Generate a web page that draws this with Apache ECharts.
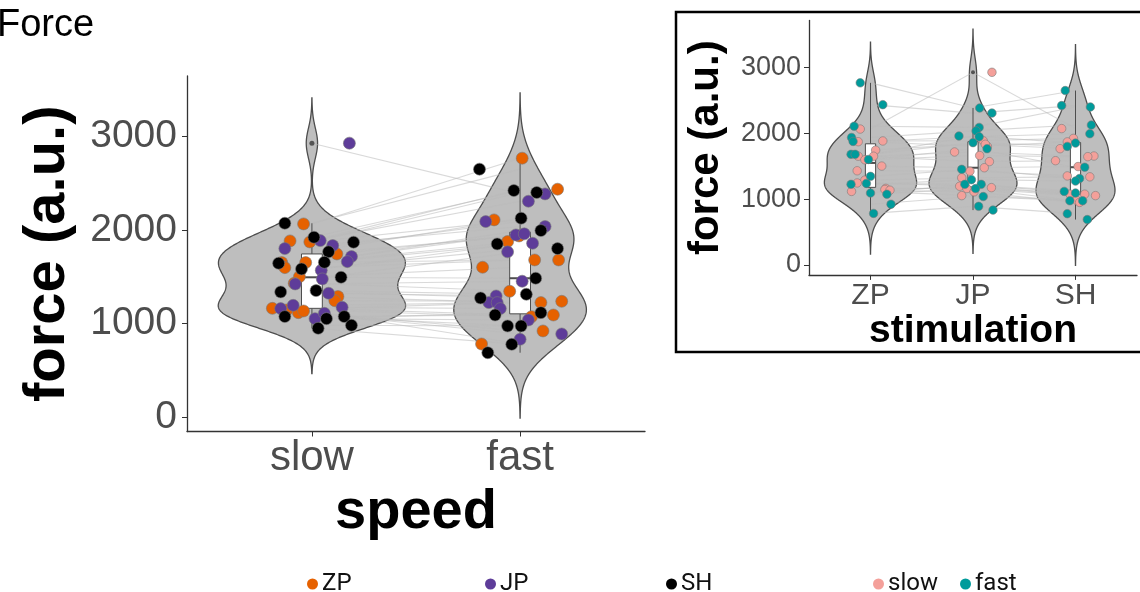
<!DOCTYPE html>
<html><head><meta charset="utf-8">
<script src="https://cdn.jsdelivr.net/npm/echarts@6/dist/echarts.min.js"></script>
<style>html,body{margin:0;padding:0;background:#fff}#c{width:1140px;height:592px}</style>
</head><body><div id="c"></div>
<script>
// ---- data (force, a.u.) ----
const speedLabels = ['slow', 'fast'];
const stimLabels = ['ZP', 'JP', 'SH'];
const yTicks = [0, 1000, 2000, 3000];

const zpSlow = [2063,1882,1871,1743,1651,1597,1651,1501,1430,1288,1245,1163,1146,1117,1135];
const jpSlow = [2924,1885,1800,1832,1715,1661,1569,1476,1423,1324,1195,1160,1174,1053,1110];
const shSlow = [2070,1921,1868,1765,1654,1644,1583,1494,1352,1338,1075,1053,1075,982,950];
const zpFast = [2764,2433,2106,1935,1875,1679,1679,1601,1345,1224,1238,1092,1074,922,783];
const jpFast = [2383,2305,2088,2035,1946,1957,1857,1765,1452,1295,1224,1224,1160,1039,890,833];
const shFast = [2647,2419,2398,2124,1992,1850,1800,1484,1313,1274,1092,1117,975,975,779,690];

// horizontal jitter (category units) as seen in the main panel
const zpSlowJit = [-0.04,-0.105,-0.01,0.12,-0.145,-0.13,-0.03,-0.06,-0.085,0.125,0.11,-0.19,-0.12,-0.065,-0.04];
const jpSlowJit = [0.18,0.04,-0.13,0.10,0.19,0.17,0.045,0.05,-0.08,0.08,-0.09,-0.15,0.145,0.015,0.06];
const shSlowJit = [-0.13,0.01,0.2,0.08,0.06,-0.16,-0.05,0.14,0.02,-0.15,-0.13,0.07,0.155,0.19,0.03];
const zpFastJit = [0.01,0.18,-0.125,-0.005,-0.06,0.07,0.185,-0.18,-0.05,0.10,0.20,0.16,0.055,0.11,-0.185];
const jpFastJit = [0.12,0.04,-0.165,0.12,-0.02,0.02,0.06,-0.06,0.01,-0.115,-0.15,-0.11,-0.095,0.04,0.20,0.0];
const shFastJit = [-0.195,-0.03,0.08,0.005,0.10,-0.11,0.18,0.075,0.03,-0.19,-0.12,0.10,-0.06,0.005,-0.04,-0.155];

// horizontal jitter as seen in the inset panel
const zpSlowJitIn = [-0.10,0.12,-0.12,0.05,-0.12,-0.055,0.03,0.11,-0.13,-0.055,-0.13,0.15,0.14,-0.185,0.19];
const jpSlowJitIn = [0.185,0.10,0.14,0.12,-0.18,0.065,0.16,0.11,-0.03,-0.11,-0.13,-0.06,0.18,-0.11,0.01];
const shSlowJitIn = [-0.135,-0.02,-0.08,-0.15,0.18,0.12,-0.195,0.025,-0.08,0.14,-0.055,0.195,0.09,0.01,0.04];
const zpFastJitIn = [-0.10,0.12,-0.16,-0.185,-0.17,-0.19,-0.15,-0.02,0.0,-0.19,-0.04,0.0,0.16,0.2,0.03];
const jpFastJitIn = [0.065,0.185,0.06,0.03,0.06,-0.137,0.0,0.137,-0.11,-0.015,-0.08,0.08,0.025,0.1,0.055,0.195];
const shFastJitIn = [-0.10,-0.135,0.145,0.155,0.14,0.0,-0.08,0.09,0.04,0.0,0.0,-0.11,-0.055,0.07,-0.08,0.115];

// ---- helpers ----
const FONT = '"Liberation Sans", Arial, sans-serif';
const LFONT = 'Roboto, "Noto Sans", sans-serif';
function q7(s, p){ const h=(s.length-1)*p, lo=Math.floor(h), hi=Math.min(lo+1,s.length-1); return s[lo]+(h-lo)*(s[hi]-s[lo]); }
function sdev(a){ const m=a.reduce((x,y)=>x+y,0)/a.length; return Math.sqrt(a.reduce((t,x)=>t+(x-m)*(x-m),0)/(a.length-1)); }
function bwNrd0(a){ const s=[...a].sort((x,y)=>x-y); const hi=sdev(a); const lo=Math.min(hi,(q7(s,0.75)-q7(s,0.25))/1.34); return 0.9*lo*Math.pow(a.length,-0.2); }
function kde(a){
  const bw=bwNrd0(a), mn=Math.min(...a), mx=Math.max(...a);
  const from=mn-3*bw, to=mx+3*bw, n=512, ys=[], ds=[];
  for(let i=0;i<n;i++){ const y=from+(to-from)*i/(n-1); let d=0;
    for(const v of a){ const z=(y-v)/bw; d+=Math.exp(-0.5*z*z); }
    ys.push(y); ds.push(d/(a.length*bw*Math.sqrt(2*Math.PI))); }
  return {ys, ds};
}
function boxStats(a){
  const s=[...a].sort((x,y)=>x-y); const q1=q7(s,0.25), med=q7(s,0.5), q3=q7(s,0.75), iqr=q3-q1;
  const inl=s.filter(v=>v>=q1-1.5*iqr && v<=q3+1.5*iqr);
  return {q1, med, q3, lo:inl[0], hi:inl[inl.length-1], out:s.filter(v=>v<q1-1.5*iqr||v>q3+1.5*iqr)};
}
function buildViolins(groups){
  const ks=groups.map(kde); const mx=Math.max(...ks.map(k=>Math.max(...k.ds)));
  return ks.map((k,i)=>({center:i+1, ys:k.ys, hw:k.ds.map(d=>0.45*d/mx)}));
}

// ---- groups ----
const mainGroups = [zpSlow.concat(jpSlow, shSlow), zpFast.concat(jpFast, shFast)];
const insetGroups = [zpSlow.concat(zpFast), jpSlow.concat(jpFast), shSlow.concat(shFast)];
const mainViolins = buildViolins(mainGroups);
const insetViolins = buildViolins(insetGroups);
const mainBoxes = mainGroups.map(boxStats);
const insetBoxes = insetGroups.map(boxStats);

function pts(center, vals, jit){ return vals.map((v,i)=>[center+jit[i], v]); }

const violinSeries = (violins, xi) => ({
  type:'custom', xAxisIndex:xi, yAxisIndex:xi, z:1, silent:true,
  data: violins.map(v=>[v.center, v.ys[0]]),
  renderItem:(params, api)=>{
    const v=violins[params.dataIndex]; const r=[], l=[];
    for(let i=0;i<v.ys.length;i++){ r.push(api.coord([v.center+v.hw[i], v.ys[i]])); l.push(api.coord([v.center-v.hw[i], v.ys[i]])); }
    return {type:'polygon', shape:{points:r.concat(l.reverse())}, style:{fill:'#BEBEBE', stroke:'#4d4d4d', lineWidth:1.3}};
  }
});
const boxSeries = (boxes, xi, hw) => ({
  type:'custom', xAxisIndex:xi, yAxisIndex:xi, z:3, silent:true,
  data: boxes.map((b,i)=>[i+1, b.med]),
  renderItem:(params, api)=>{
    const b=boxes[params.dataIndex], c=params.dataIndex+1;
    const tl=api.coord([c-hw, b.q3]), br=api.coord([c+hw, b.q1]);
    const st={stroke:'#4d4d4d', lineWidth:1};
    const line=(p,q)=>({type:'line', shape:{x1:p[0],y1:p[1],x2:q[0],y2:q[1]}, style:st});
    const my=api.coord([c,b.med])[1];
    return {type:'group', children:[
      line(api.coord([c,b.q3]), api.coord([c,b.hi])),
      line(api.coord([c,b.q1]), api.coord([c,b.lo])),
      {type:'rect', shape:{x:tl[0], y:tl[1], width:br[0]-tl[0], height:br[1]-tl[1]}, style:{fill:'#fff', stroke:'#4d4d4d', lineWidth:1}},
      {type:'line', shape:{x1:tl[0], y1:my, x2:br[0], y2:my}, style:{stroke:'#4d4d4d', lineWidth:2}}
    ]};
  }
});
const pairLineSeries = (pairs, xi) => ({
  type:'custom', xAxisIndex:xi, yAxisIndex:xi, z:2, silent:true,
  data: pairs,
  renderItem:(params, api)=>{
    const p=pairs[params.dataIndex]; const points=p.map((v,i)=>api.coord([i+1, v]));
    return {type:'polyline', shape:{points}, style:{stroke:'rgba(185,185,185,0.55)', lineWidth:1.1, fill:null}};
  }
});
function zipPairs(arrs){ const n=Math.min(...arrs.map(a=>a.length)); const out=[]; for(let i=0;i<n;i++) out.push(arrs.map(a=>a[i])); return out; }

const mainPairs = [].concat(zipPairs([zpSlow,zpFast]), zipPairs([jpSlow,jpFast]), zipPairs([shSlow,shFast]));
const insetPairs = [].concat(zipPairs([zpSlow,jpSlow,shSlow]), zipPairs([zpFast,jpFast,shFast]));

const outlierSeries = (boxes, xi, size) => ({
  type:'scatter', xAxisIndex:xi, yAxisIndex:xi, z:3, silent:true, symbolSize:size,
  itemStyle:{color:'#3a3a3a'},
  data:[].concat(...boxes.map((b,i)=>b.out.map(v=>[i+1,v])))
});

const ptStyle = c => ({color:c, borderColor:'#7a7a7a', borderWidth:0.6, opacity:1});
const COL = {ZP:'#E66100', JP:'#5E3C99', SH:'#000000', slow:'#F4A09A', fast:'#009B9B'};

function yAxis(gi, labelSize, nameSize, gap, margin){
  return {type:'value', gridIndex:gi, min:-150, max: gi===0?3640:3710,
    axisLine:{show:true, onZero:false, lineStyle:{color:'#333', width:1.3}},
    axisTick:{show:true, customValues:yTicks, length:5, lineStyle:{color:'#333'}},
    axisLabel:{customValues:yTicks, formatter:v=>String(v), fontSize:labelSize, color:'#4D4D4D', fontFamily:FONT, margin:margin},
    splitLine:{show:false},
    name:'force (a.u.)', nameLocation:'middle', nameRotate:90, nameGap:gap,
    nameTextStyle:{fontSize:nameSize, fontWeight:'bold', color:'#000', fontFamily:FONT}};
}
function xAxis(gi, labels, labelSize, name, nameSize, gap){
  const vals=labels.map((_,i)=>i+1);
  return {type:'value', gridIndex:gi, min:0.4, max:labels.length+0.6,
    axisLine:{show:true, onZero:false, lineStyle:{color:'#333', width:1.3}},
    axisTick:{show:true, customValues:vals, length:5, lineStyle:{color:'#333'}},
    axisLabel:{customValues:vals, formatter:v=>labels[Math.round(v)-1], fontSize:labelSize, color:'#4D4D4D', fontFamily:FONT, margin:6},
    splitLine:{show:false},
    name:name, nameLocation:'middle', nameGap:gap,
    nameTextStyle:{fontSize:nameSize, fontWeight:'bold', color:'#000', fontFamily:FONT}};
}
const legendItem = (name, left) => ({data:[name], left:left, top:567, icon:'circle', itemWidth:11, itemHeight:11,
  itemStyle:{borderWidth:0}, textStyle:{fontSize:24, color:'#111', fontFamily:LFONT, padding:[0,0,0,-1]}});

const option = {
  animation:false,
  backgroundColor:'#fff',
  title:{text:'Force', left:-3, top:7, padding:0, textStyle:{fontSize:38, fontWeight:'normal', color:'#000', fontFamily:FONT}},
  grid:[{left:187, top:76, width:458, height:355.5}, {left:809, top:20.5, width:328, height:254.4}],
  xAxis:[xAxis(0, speedLabels, 42, 'speed', 56, 40), xAxis(1, stimLabels, 30, 'stimulation', 39, 27)],
  yAxis:[yAxis(0, 39, 58, 110, 10), yAxis(1, 27, 42, 82, 8)],
  legend:[legendItem('ZP',302), legendItem('JP',480), legendItem('SH',661), legendItem('slow',868), legendItem('fast',955)],
  graphic:[{type:'rect', shape:{x:676, y:12, width:480, height:340}, style:{fill:null, stroke:'#000', lineWidth:2.5}, silent:true}],
  series:[
    violinSeries(mainViolins, 0),
    pairLineSeries(mainPairs, 0),
    boxSeries(mainBoxes, 0, 0.05),
    outlierSeries(mainBoxes, 0, 5),
    {name:'ZP', type:'scatter', xAxisIndex:0, yAxisIndex:0, z:4, symbolSize:12, itemStyle:ptStyle(COL.ZP),
     data:pts(1,zpSlow,zpSlowJit).concat(pts(2,zpFast,zpFastJit))},
    {name:'JP', type:'scatter', xAxisIndex:0, yAxisIndex:0, z:4, symbolSize:12, itemStyle:ptStyle(COL.JP),
     data:pts(1,jpSlow,jpSlowJit).concat(pts(2,jpFast,jpFastJit))},
    {name:'SH', type:'scatter', xAxisIndex:0, yAxisIndex:0, z:4, symbolSize:12, itemStyle:ptStyle(COL.SH),
     data:pts(1,shSlow,shSlowJit).concat(pts(2,shFast,shFastJit))},
    violinSeries(insetViolins, 1),
    pairLineSeries(insetPairs, 1),
    boxSeries(insetBoxes, 1, 0.05),
    outlierSeries(insetBoxes, 1, 4),
    {name:'slow', type:'scatter', xAxisIndex:1, yAxisIndex:1, z:4, symbolSize:8.5, itemStyle:ptStyle(COL.slow),
     data:pts(1,zpSlow,zpSlowJitIn).concat(pts(2,jpSlow,jpSlowJitIn), pts(3,shSlow,shSlowJitIn))},
    {name:'fast', type:'scatter', xAxisIndex:1, yAxisIndex:1, z:4, symbolSize:8.5, itemStyle:ptStyle(COL.fast),
     data:pts(1,zpFast,zpFastJitIn).concat(pts(2,jpFast,jpFastJitIn), pts(3,shFast,shFastJitIn))}
  ]
};
const chart = echarts.init(document.getElementById('c'), null, {renderer:'canvas'});
chart.setOption(option);
</script>
</body></html>
